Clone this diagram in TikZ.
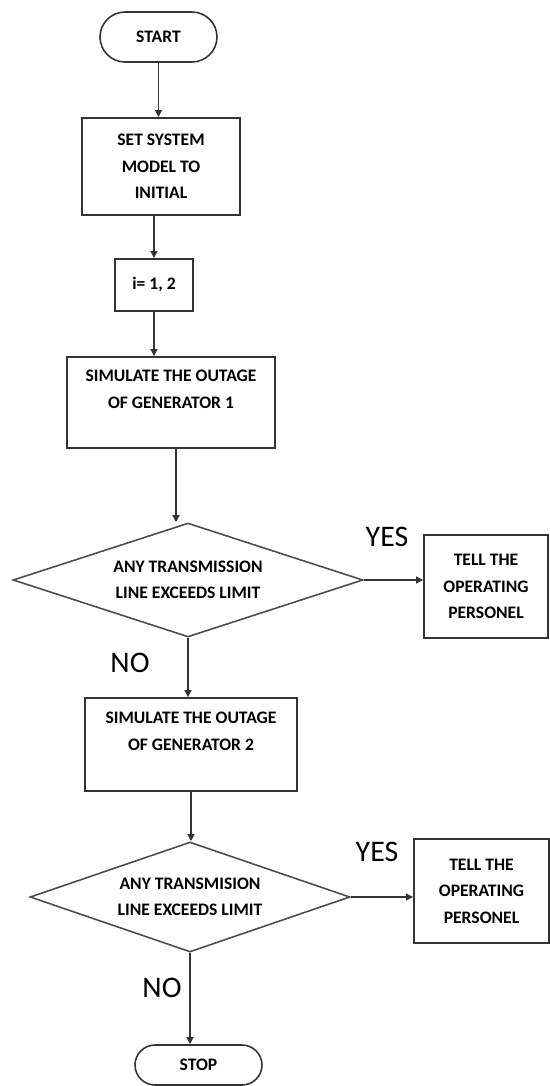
\documentclass[tikz,border=0pt]{standalone}
\usepackage{fontspec}
\setmainfont{Carlito}
\usetikzlibrary{shapes.geometric,shapes.misc,arrows.meta}

\begin{document}
\begin{tikzpicture}[x=0.02cm, y=-0.02cm,
	every node/.style={font=\fontsize{10}{15}\selectfont\bfseries, align=center},
	terminal/.style={draw=black!80, line width=0.9pt, rounded rectangle, inner sep=0pt},
	process/.style={draw=black!80, line width=1.1pt, rectangle, inner sep=0pt},
	decision/.style={draw=black!70, line width=0.9pt, diamond, aspect=3, inner sep=0pt},
	answer/.style={font=\fontsize{17}{20}\selectfont},
	flow/.style={draw=black!80, line width=0.7pt, -{Triangle[width=4pt,length=4pt]}}]
	\useasboundingbox (0,0) rectangle (550,1086);

	\draw (158.5,37)   node[terminal, minimum width=2.34cm, minimum height=1.0cm] (start) {START};
	\draw (161,166.5)  node[process, minimum width=3.16cm, minimum height=1.94cm] (init) {SET SYSTEM\\MODEL TO\\INITIAL};
	\draw (154,285)    node[process, minimum width=1.56cm, minimum height=1.04cm] (loop) {i= 1, 2};
	\draw (171,402.5)  node[process, minimum width=4.16cm, minimum height=1.82cm] (sim1) {SIMULATE THE OUTAGE\\OF GENERATOR 1\\~};
	\draw (188,580)    node[decision, minimum width=7.0cm, minimum height=2.28cm] (dec1) {ANY TRANSMISSION\\LINE EXCEEDS LIMIT};
	\draw (486,586.5)  node[process, minimum width=2.48cm, minimum height=2.06cm] (tell1) {TELL THE\\OPERATING\\PERSONEL};
	\draw (191,744.5)  node[process, minimum width=4.24cm, minimum height=1.86cm] (sim2) {SIMULATE THE OUTAGE\\OF GENERATOR 2\\~};
	\draw (190,897)    node[decision, minimum width=6.4cm, minimum height=2.2cm] (dec2) {ANY TRANSMISION\\LINE EXCEEDS LIMIT};
	\draw (481.5,891)  node[process, minimum width=2.7cm, minimum height=2.08cm] (tell2) {TELL THE\\OPERATING\\PERSONEL};
	\draw (198.5,1065) node[terminal, minimum width=2.54cm, minimum height=0.8cm] (stop) {STOP};

	\draw (387,537) node[answer] (yes1) {YES};
	\draw (130,663) node[answer] (no1) {NO};
	\draw (377,852) node[answer] (yes2) {YES};
	\draw (162,988) node[answer] (no2) {NO};

	\draw[flow] (start.south) -- (start.south |- init.north);
	\draw[flow] (loop.north |- init.south) -- (loop.north);
	\draw[flow] (loop.south) -- (loop.south |- sim1.north);
	\draw[flow] ([xshift=0.1cm]sim1.south) -- ([xshift=0.1cm]sim1.south |- dec1.north);
	\draw[flow] (dec1.east) -- (dec1.east -| tell1.west);
	\draw[flow] (dec1.south) -- (dec1.south |- sim2.north);
	\draw[flow] (sim2.south) -- (sim2.south |- dec2.north);
	\draw[flow] (dec2.east) -- (dec2.east -| tell2.west);
	\draw[flow] (dec2.south) -- (dec2.south |- stop.north);
\end{tikzpicture}
\end{document}
